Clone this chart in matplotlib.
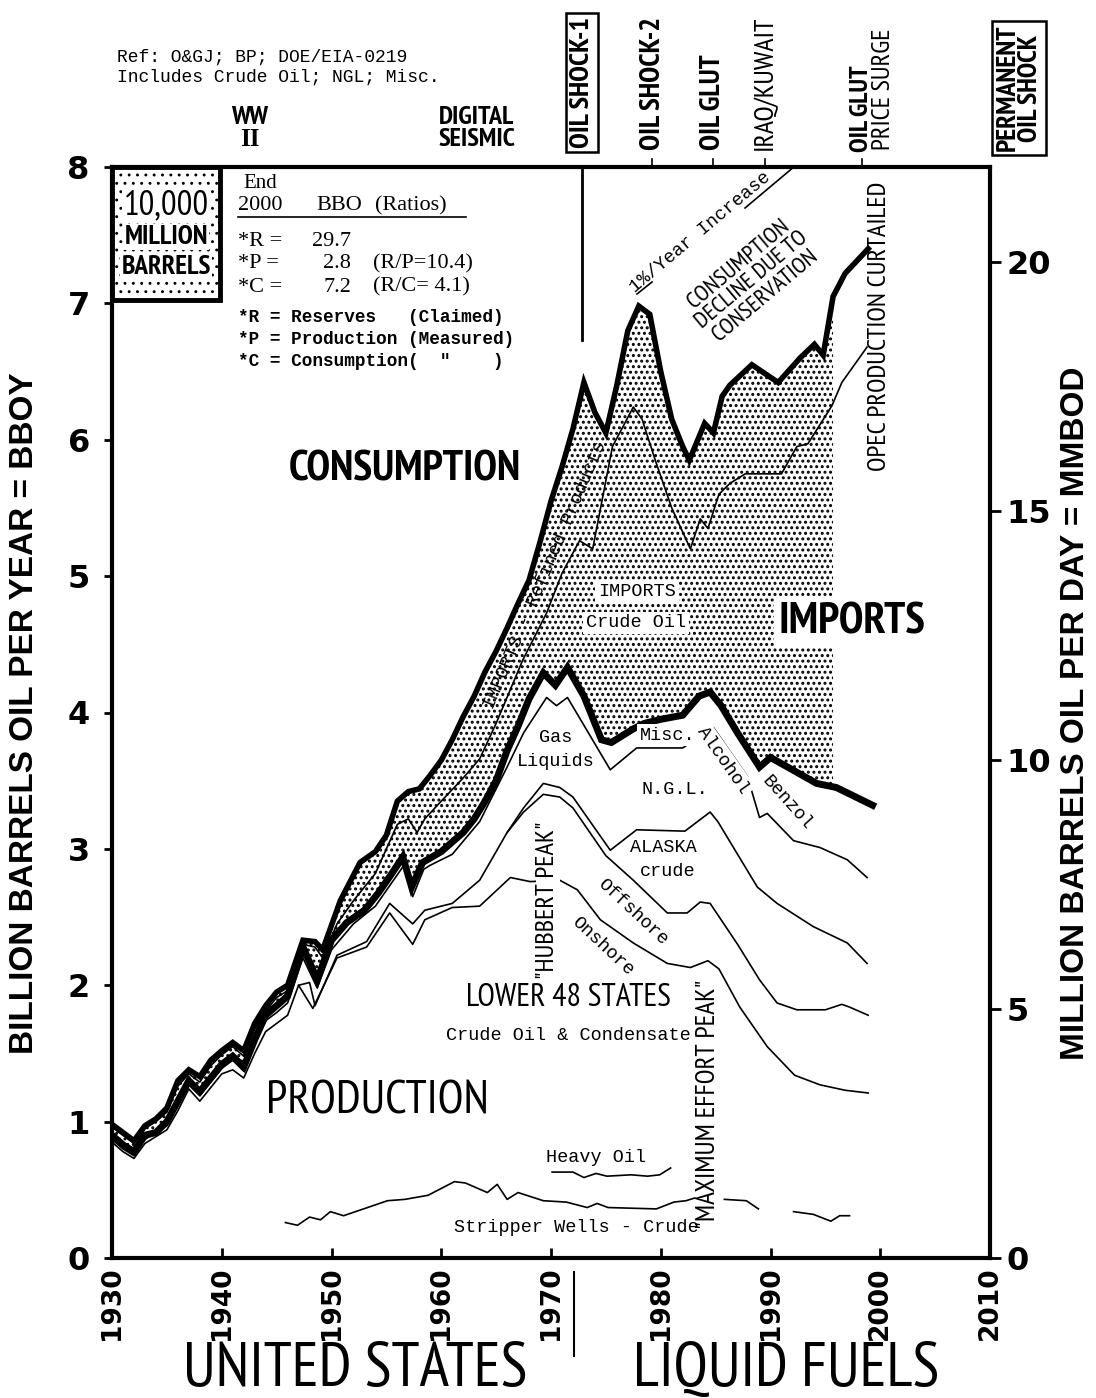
import matplotlib
matplotlib.use('Agg')
import matplotlib.pyplot as plt
import numpy as np
from matplotlib import font_manager as fm
from matplotlib.patches import Rectangle
from matplotlib.lines import Line2D

# ---------------- data (billion barrels per year) ----------------
cons_years = [1930, 1931, 1932, 1933, 1934, 1935, 1936, 1937, 1938, 1939, 1940, 1941, 1942, 1943,
              1944, 1945, 1946, 1947.4, 1948.5, 1949.2, 1950.8, 1952.6, 1954, 1955, 1956, 1957,
              1958, 1959, 1960, 1961, 1962, 1963, 1964, 1965, 1966, 1967, 1968, 1969, 1970, 1971,
              1972, 1973, 1974, 1975, 1976, 1977, 1978, 1979, 1980, 1981, 1982, 1982.6, 1984,
              1984.8, 1985.6, 1986.3, 1988.3, 1990.7, 1992.7, 1994.0, 1994.8, 1995.7, 1996.8, 1998.9]
consumption = [0.98, 0.92, 0.86, 0.97, 1.02, 1.10, 1.30, 1.38, 1.33, 1.45, 1.52, 1.58, 1.52, 1.72,
               1.85, 1.95, 2.00, 2.33, 2.32, 2.26, 2.62, 2.90, 2.98, 3.10, 3.35, 3.42,
               3.44, 3.54, 3.65, 3.80, 3.97, 4.12, 4.30, 4.45, 4.62, 4.80, 4.97, 5.25, 5.55, 5.80,
               6.08, 6.42, 6.20, 6.05, 6.40, 6.80, 6.98, 6.92, 6.50, 6.15, 5.95, 5.85, 6.12,
               6.05, 6.32, 6.40, 6.55, 6.42, 6.60, 6.70, 6.62, 7.05, 7.22, 7.40]

crude_imp_years = [1930, 1931, 1932, 1933, 1934, 1935, 1936, 1937, 1938, 1939, 1940, 1941, 1942,
                   1943, 1944, 1945, 1946, 1947.4, 1948.5, 1949.2, 1950.5, 1952, 1954, 1956, 1957,
                   1957.8, 1958.5, 1960, 1962, 1963.5, 1965, 1967.4, 1969.6, 1971, 1972.6,
                   1973.8, 1975.6, 1977.5, 1978.3, 1979.5, 1981, 1982.7, 1983.6, 1984.3, 1985.3,
                   1986.3, 1987.7, 1991, 1992.4, 1993.4, 1995.6, 1996.5, 1998.8]
crude_imp_top = [0.96, 0.90, 0.84, 0.95, 1.00, 1.07, 1.26, 1.35, 1.29, 1.41, 1.49, 1.55, 1.48,
                 1.68, 1.81, 1.91, 1.96, 2.30, 2.28, 2.20, 2.45, 2.62, 2.82, 3.18, 3.22,
                 3.12, 3.22, 3.35, 3.52, 3.66, 3.92, 4.38, 4.73, 5.02, 5.26,
                 5.20, 5.95, 6.24, 6.15, 5.85, 5.50, 5.20, 5.42, 5.35, 5.60,
                 5.68, 5.75, 5.75, 5.95, 5.97, 6.25, 6.42, 6.68]

prod_years = [1930, 1931, 1932, 1933, 1934, 1935, 1936, 1937, 1938, 1939, 1940, 1941, 1942, 1943,
              1944, 1945, 1946, 1947.4, 1948.7, 1950, 1951.4, 1953, 1954.3, 1955.5, 1956.5, 1957.3,
              1958.3, 1960, 1961, 1962, 1963, 1964, 1965, 1966, 1967, 1968, 1969.3, 1970.4, 1971.5,
              1973, 1974.6, 1975.5, 1976.5, 1977.5, 1978.5, 1980, 1982, 1983.5, 1984.5, 1985.5, 1987,
              1989, 1990, 1992, 1994.2, 1996, 1999.3]
production = [0.90, 0.83, 0.78, 0.90, 0.92, 1.00, 1.15, 1.30, 1.22, 1.32, 1.42, 1.48, 1.40, 1.60,
              1.78, 1.85, 1.92, 2.28, 2.04, 2.33, 2.46, 2.55, 2.68, 2.82, 2.94, 2.72,
              2.90, 2.98, 3.05, 3.12, 3.22, 3.35, 3.50, 3.72, 3.90, 4.10, 4.29, 4.20, 4.33,
              4.12, 3.80, 3.78, 3.83, 3.88, 3.92, 3.95, 3.98, 4.12, 4.15, 4.05, 3.85,
              3.60, 3.67, 3.58, 3.48, 3.45, 3.32]

ngl_years = [1930, 1931, 1932, 1933, 1935, 1936, 1937, 1938, 1939, 1940, 1941, 1942, 1943, 1944,
             1945, 1946, 1947.4, 1948.7, 1950, 1952, 1954, 1956.6, 1957.4, 1958.4, 1959, 1961,
             1963.5, 1966, 1967.5, 1969.6, 1970.5, 1971.5, 1975.4, 1977.8, 1982, 1983.6, 1984.8,
             1987.9, 1989, 1989.7, 1992.1, 1994.5, 1997, 1998.8]
crude_plus_ngl = [0.87, 0.80, 0.75, 0.87, 0.97, 1.12, 1.27, 1.19, 1.29, 1.39, 1.45, 1.37, 1.57, 1.74,
                  1.80, 1.87, 2.20, 1.98, 2.26, 2.45, 2.58, 2.88, 2.65, 2.85, 2.88, 2.96,
                  3.20, 3.60, 3.85, 4.11, 4.05, 4.11, 3.58, 3.74, 3.74, 3.83, 3.89,
                  3.53, 3.23, 3.26, 3.06, 3.01, 2.92, 2.79]

crude_years = [1930, 1931, 1932, 1933, 1935, 1936, 1937, 1938, 1939, 1940, 1941, 1942, 1943, 1944,
               1945, 1946, 1947, 1948, 1948.5, 1950.5, 1953.2, 1955.3, 1957.4, 1958.5, 1961, 1963.5,
               1966, 1967.5, 1969.3, 1970.8, 1972, 1975.4, 1977.8, 1982.2, 1984.5, 1985.2, 1988.8,
               1990.6, 1993.9, 1997, 1998.8]
total_crude = [0.85, 0.78, 0.73, 0.84, 0.94, 1.08, 1.24, 1.15, 1.25, 1.35, 1.38, 1.32, 1.50, 1.66,
               1.72, 1.78, 2.00, 2.02, 1.85, 2.22, 2.32, 2.60, 2.45, 2.55, 2.60, 2.77,
               3.12, 3.30, 3.48, 3.45, 3.38, 2.99, 3.14, 3.13, 3.27, 3.20, 2.72,
               2.60, 2.43, 2.31, 2.16]

l48_years = [1966, 1967.5, 1969.3, 1970.8, 1972, 1975, 1977.5, 1980.6, 1982.4, 1983.6, 1984.5,
             1987, 1989, 1990.6, 1992.4, 1995, 1996.5, 1997.2, 1998.9]
lower48 = [3.12, 3.27, 3.40, 3.38, 3.30, 2.95, 2.77, 2.53, 2.53, 2.61, 2.60,
           2.30, 2.04, 1.87, 1.82, 1.82, 1.86, 1.84, 1.78]

on_years = [1947, 1948.3, 1950.5, 1953.2, 1955.3, 1957.4, 1958.5, 1961, 1963.5, 1966.3, 1968.1,
            1970.8, 1972.4, 1974.5, 1977.5, 1980.6, 1982.7, 1984.3, 1985.3, 1987.2, 1989.7,
            1992.2, 1994.5, 1996.8, 1998.9]
onshore = [2.00, 1.83, 2.20, 2.28, 2.53, 2.30, 2.48, 2.57, 2.58, 2.79, 2.76,
           2.77, 2.70, 2.48, 2.31, 2.16, 2.13, 2.18, 2.12, 1.84, 1.55,
           1.34, 1.27, 1.23, 1.21]

strip_years = [1945.8, 1946.9, 1948, 1949, 1949.9, 1951.1, 1955.1, 1956.7, 1958.8, 1961.2, 1962.2,
               1964.2, 1965.1, 1966, 1967, 1969.3, 1971.4, 1973.3, 1974.2, 1975.2, 1979.6, 1981.2,
               1982.3, 1983.1, np.nan, 1985.8, 1987.8, 1988.9, np.nan, 1992.1, 1993.9, 1995.5,
               1996.3, 1997.2]
stripper = [0.26, 0.24, 0.30, 0.28, 0.34, 0.31, 0.42, 0.43, 0.46, 0.56, 0.55,
            0.48, 0.54, 0.43, 0.48, 0.42, 0.41, 0.37, 0.40, 0.37, 0.36, 0.41,
            0.42, 0.44, np.nan, 0.43, 0.42, 0.36, np.nan, 0.34, 0.32, 0.27,
            0.31, 0.31]

heavy_years = [1970.1, 1972, 1973, 1974.1, 1975.1, 1977.3, 1978.8, 1979.9, 1980.9]
heavy_oil = [0.63, 0.63, 0.59, 0.62, 0.60, 0.61, 0.60, 0.61, 0.66]

stipple_end = 1995.7
bboy_per_mmbod = 0.365
right_ticks = [0, 5, 10, 15, 20]
x_ticks = [1930, 1940, 1950, 1960, 1970, 1980, 1990, 2000, 2010]
y_ticks = [0, 1, 2, 3, 4, 5, 6, 7, 8]

# ---------------- fonts ----------------
_fonts = fm.fontManager.ttflist


def pick(cands, default, bold=False):
    for c in cands:
        for f in _fonts:
            if f.name == c and '[' not in f.fname:
                w = f.weight if isinstance(f.weight, int) else (700 if 'bold' in str(f.weight) else 400)
                if (bold and w >= 600) or (not bold and 350 <= w <= 500):
                    return c
    return default


COND_CANDS = ['PT Sans Narrow', 'Fira Sans Condensed', 'IBM Plex Sans Condensed',
              'Barlow Condensed', 'Encode Sans Condensed', 'Asap Condensed',
              'Archivo Narrow', 'Roboto Condensed', 'Liberation Sans Narrow']
COND = [pick(COND_CANDS, 'Liberation Sans'), 'DejaVu Sans']
COND_B = [pick(COND_CANDS, 'Liberation Sans', bold=True), 'DejaVu Sans']
SANS = ['Liberation Sans', 'DejaVu Sans']
MONO = ['Liberation Mono', 'DejaVu Sans Mono']
SERIF = ['Liberation Serif', 'DejaVu Serif']

# ---------------- figure ----------------
W, H = 1096, 1398
fig = plt.figure(figsize=(W / 100, H / 100), dpi=100)
fig.patch.set_facecolor('white')
ax = fig.add_axes([112 / W, 1 - 1258 / H, (990 - 112) / W, (1258 - 167) / H])
ax.set_xlim(1930, 2010)
ax.set_ylim(0, 8)


def T(px, py, s, **kw):
    return fig.text(px / W, 1 - py / H, s, **kw)


# stippled import band
plt.rcParams['hatch.linewidth'] = 1.4
grid = np.union1d(np.union1d(cons_years, prod_years), crude_imp_years)
grid = grid[grid <= stipple_end]
grid = np.append(grid, stipple_end)
c_i = np.interp(grid, cons_years, consumption)
p_i = np.interp(grid, prod_years, production)
ax.fill_between(grid, p_i, c_i, facecolor='white', edgecolor='black', hatch='...',
                linewidth=0, zorder=1)

lw_thin = 1.2
ax.plot(cons_years, consumption, color='black', lw=4.0, solid_joinstyle='miter', zorder=5)
ax.plot(crude_imp_years, crude_imp_top, color='black', lw=lw_thin, zorder=4)
ax.plot(prod_years, production, color='black', lw=5.0, solid_joinstyle='miter', zorder=5)
ax.plot(ngl_years, crude_plus_ngl, color='black', lw=lw_thin, zorder=4)
ax.plot(crude_years, total_crude, color='black', lw=lw_thin, zorder=4)
ax.plot(l48_years, lower48, color='black', lw=lw_thin, zorder=4)
ax.plot(on_years, onshore, color='black', lw=lw_thin, zorder=4)
ax.plot(strip_years, stripper, color='black', lw=lw_thin, zorder=4)
ax.plot(heavy_years, heavy_oil, color='black', lw=lw_thin, zorder=4)

# axes styling
for s in ax.spines.values():
    s.set_linewidth(3)
ax.set_xticks(x_ticks)
ax.set_xticklabels([str(v) for v in x_ticks], rotation=90, fontsize=19, fontweight='bold',
                   family='DejaVu Sans')
ax.tick_params(axis='x', direction='in', length=7, width=2, pad=6)
ax.set_yticks(y_ticks)
ax.set_yticklabels([str(v) for v in y_ticks], fontsize=23, fontweight='bold', family='DejaVu Sans')
ax.tick_params(axis='y', direction='out', length=6, width=2, pad=10)

ax2 = ax.twinx()
ax2.set_ylim(0, 8 / bboy_per_mmbod)
ax2.set_yticks(right_ticks)
ax2.set_yticklabels([str(v) for v in right_ticks], fontsize=23, fontweight='bold',
                    family='DejaVu Sans')
ax2.tick_params(axis='y', direction='out', length=8, width=2, pad=4)
for s in ax2.spines.values():
    s.set_visible(False)

T(25, 713, 'BILLION BARRELS OIL PER YEAR = BBOY', rotation=90, ha='center', va='center',
  fontsize=24, fontweight='bold', family=SANS)
T(1075, 713, 'MILLION BARRELS OIL PER DAY = MMBOD', rotation=90, ha='center', va='center',
  fontsize=24, fontweight='bold', family=SANS)
T(355, 1386, 'UNITED STATES', ha='center', va='baseline', fontsize=45, family=COND)
T(786, 1386, 'LIQUID FUELS', ha='center', va='baseline', fontsize=45, family=COND)

# header notes
T(117, 57, 'Ref: O&GJ; BP; DOE/EIA-0219', fontsize=13, family=MONO, va='center')
T(117, 77, 'Includes Crude Oil; NGL; Misc.', fontsize=13, family=MONO, va='center')
T(250, 117, 'WW', fontsize=19, fontweight='bold', family=COND_B, ha='center', va='center')
T(250, 140, 'II', fontsize=18, fontweight='bold', family=SERIF, ha='center', va='center')
T(477, 117, 'DIGITAL', fontsize=19, fontweight='bold', family=COND_B, ha='center', va='center')
T(477, 139, 'SEISMIC', fontsize=19, fontweight='bold', family=COND_B, ha='center', va='center')


def vtext(px, py, s, **kw):
    return T(px, py, s, rotation=90, rotation_mode='anchor', ha='left', va='center', **kw)


vtext(582, 148, 'OIL SHOCK-1', fontsize=20.5, fontweight='bold', family=COND_B,
      bbox=dict(boxstyle='square,pad=0.15', fc='white', ec='black', lw=1.8))
vtext(653, 150, 'OIL SHOCK-2', fontsize=21, fontweight='bold', family=COND_B)
vtext(713, 150, 'OIL GLUT', fontsize=21, fontweight='bold', family=COND_B)
vtext(765, 150, 'IRAQ/KUWAIT', fontsize=20, family=COND)
vtext(862, 152, 'OIL GLUT', fontsize=19, fontweight='bold', family=COND_B)
vtext(883, 150, 'PRICE SURGE', fontsize=19, family=COND)
T(1019, 88, 'PERMANENT\nOIL SHOCK', rotation=90, ha='center', va='center', fontsize=20,
  fontweight='bold', family=COND_B, linespacing=0.9,
  bbox=dict(boxstyle='square,pad=0.15', fc='white', ec='black', lw=1.8))

# event marks
shock1 = 1972.8
ax.plot([shock1, shock1], [6.73, 8], color='black', lw=2, zorder=3)
for yr in [1979.2, 1984.8, 1989.5, 1998.3]:
    ax.plot([yr, yr], [8, 8.06], color='black', lw=1.2, clip_on=False)
ax.plot([1972.1, 1972.1], [-0.1, -0.72], color='black', lw=1.5, clip_on=False)

# 10,000 million barrels box
plt.rcParams['hatch.linewidth'] = 0.9
box = Rectangle((112 / W, 1 - 300 / H), 108 / W, 133 / H, transform=fig.transFigure,
                facecolor='white', edgecolor='black', hatch='..', lw=3.5, zorder=6)
fig.add_artist(box)
wbx = dict(boxstyle='square,pad=0.05', fc='white', ec='none')
T(166, 205, '10,000', fontsize=25, family=COND, ha='center', va='center', zorder=7, bbox=wbx)
T(166, 237, 'MILLION', fontsize=19.5, fontweight='bold', family=COND_B, ha='center', va='center',
  zorder=7, bbox=wbx)
T(166, 267, 'BARRELS', fontsize=19.5, fontweight='bold', family=COND_B, ha='center', va='center',
  zorder=7, bbox=wbx)

# reserves table
T(243, 183, 'End', fontsize=15, family=SERIF, va='center')
T(238, 206, '2000', fontsize=16, family=SERIF, va='center')
T(316, 206, 'BBO', fontsize=16, family=SERIF, va='center')
T(375, 206, '(Ratios)', fontsize=16, family=SERIF, va='center')
fig.add_artist(Line2D([238 / W, 466 / W], [1 - 217 / H, 1 - 217 / H], color='black', lw=1.2))
for py, lab, val, rat in [(241, '*R =', '29.7', ''), (264, '*P =', '2.8', '(R/P=10.4)'),
                          (287, '*C =', '7.2', '(R/C= 4.1)')]:
    T(238, py, lab, fontsize=16, family=SERIF, va='center')
    T(351, py, val, fontsize=16, family=SERIF, va='center', ha='right')
    if rat:
        T(373, py, rat, fontsize=16, family=SERIF, va='center')
T(238, 318, '*R = Reserves   (Claimed)', fontsize=12.8, family=MONO, va='center', fontweight='bold')
T(238, 340, '*P = Production (Measured)', fontsize=12.8, family=MONO, va='center', fontweight='bold')
T(238, 362, '*C = Consumption(  "    )', fontsize=12.8, family=MONO, va='center', fontweight='bold')

# big labels
wb = dict(boxstyle='square,pad=0.15', fc='white', ec='none')
T(405, 470, 'CONSUMPTION', fontsize=31, fontweight='bold', family=COND_B, ha='center', va='center')
T(852, 622, 'IMPORTS', fontsize=32, fontweight='bold', family=COND_B, ha='center', va='center',
  bbox=dict(boxstyle='square,pad=0.1', fc='white', ec='none'), zorder=8)
T(377, 1102, 'PRODUCTION', fontsize=34, family=COND, ha='center', va='center')
T(568, 998, 'LOWER 48 STATES', fontsize=23, family=COND, ha='center', va='center')

FS = 13.3
T(568, 1035, 'Crude Oil & Condensate', fontsize=FS, family=MONO, ha='center', va='center')
T(637, 591, 'IMPORTS', fontsize=FS, family=MONO, ha='center', va='center', bbox=wb, zorder=8)
T(636, 623, 'Crude Oil', fontsize=FS, family=MONO, ha='center', va='center', bbox=wb, zorder=8)
T(556, 738, 'Gas', fontsize=FS, family=MONO, ha='center', va='center')
T(556, 762, 'Liquids', fontsize=FS, family=MONO, ha='center', va='center')
T(668, 735, 'Misc.', fontsize=FS, family=MONO, ha='center', va='center', bbox=wb, zorder=8)
T(675, 790, 'N.G.L.', fontsize=FS, family=MONO, ha='center', va='center')
T(663, 848, 'ALASKA', fontsize=FS, family=MONO, ha='center', va='center')
T(668, 871, 'crude', fontsize=FS, family=MONO, ha='center', va='center')
T(633, 912, 'Offshore', fontsize=FS, family=MONO, ha='center', va='center', rotation=-43)
T(603, 946, 'Onshore', fontsize=FS, family=MONO, ha='center', va='center', rotation=-43)
T(548, 900, '"HUBBERT PEAK"', fontsize=19, family=COND, ha='center', va='center',
  rotation=90, bbox=dict(boxstyle='square,pad=0.03', fc='white', ec='none'), zorder=8)
T(708, 1104, '"MAXIMUM EFFORT PEAK"', fontsize=19.5, family=COND, ha='center', va='center',
  rotation=90, zorder=8)
T(596, 1158, 'Heavy Oil', fontsize=FS, family=MONO, ha='center', va='center')
T(576, 1228, 'Stripper Wells - Crude', fontsize=FS, family=MONO, ha='center', va='center')
T(545, 575, 'IMPORTS - Refined Products', fontsize=FS, family=MONO, ha='center', va='center',
  rotation=67, zorder=8)
T(723, 760, 'Alcohol', fontsize=FS, family=MONO, ha='center', va='center', rotation=-55,
  bbox=wb, zorder=8)
T(787, 803, 'Benzol', fontsize=FS, family=MONO, ha='center', va='center', rotation=-48,
  bbox=wb, zorder=8)
T(700, 232, '1%/Year Increase', fontsize=FS, family=MONO, ha='center', va='center', rotation=40)
fig.add_artist(Line2D([745 / W, 795 / W], [1 - 208 / H, 1 - 166 / H], color='black', lw=1.2))
fig.add_artist(Line2D([637 / W, 652 / W], [1 - 294 / H, 1 - 282 / H], color='black', lw=1.2))
T(752, 280, 'CONSUMPTION\nDECLINE DUE TO\nCONSERVATION', fontsize=17, family=COND,
  ha='center', va='center', rotation=40, linespacing=0.95, multialignment='center')
T(879, 326, 'OPEC PRODUCTION CURTAILED', fontsize=19, family=COND, ha='center',
  va='center', rotation=90)

fig.savefig('out.png', dpi=100, facecolor='white')
